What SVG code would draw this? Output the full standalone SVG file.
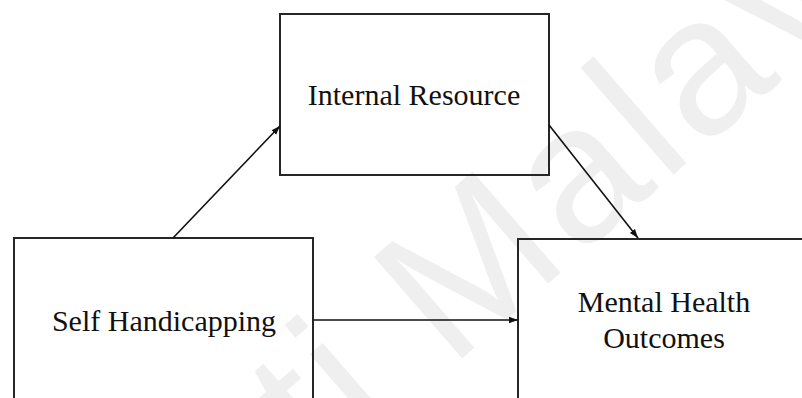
<svg xmlns="http://www.w3.org/2000/svg" width="802" height="398" viewBox="0 0 802 398">
  <style>
    .box { fill: none; stroke: #262626; stroke-width: 2; }
    .label { font-family: "Liberation Serif", "Times New Roman", serif; font-size: 30px; fill: #111; text-anchor: middle; }
    .edge { stroke: #111; stroke-width: 1.6; fill: none; marker-end: url(#arrow); }
    .mark { font-family: "Liberation Sans", Arial, sans-serif; font-size: 195px; letter-spacing: 6px; fill: #efefef; }
  </style>
  <defs>
    <marker id="arrow" markerUnits="userSpaceOnUse" markerWidth="10" markerHeight="8" refX="9" refY="4" orient="auto">
      <path d="M0,0.8 L9,4 L0,7.2 Z" fill="#111"/>
    </marker>
  </defs>

  <rect width="802" height="398" fill="#ffffff"/>

  <!-- background watermark -->
  <text class="mark" transform="translate(322 480) rotate(-41)">ti Malaya</text>

  <g id="internal-resource">
    <rect class="box" x="280" y="14" width="269" height="161"/>
    <text class="label" x="414" y="105">Internal Resource</text>
  </g>

  <g id="self-handicapping">
    <rect class="box" x="14" y="238" width="299" height="190"/>
    <text class="label" x="164" y="331">Self Handicapping</text>
  </g>

  <g id="mental-health-outcomes">
    <rect class="box" x="518" y="239" width="300" height="190"/>
    <text class="label" x="664" y="312">Mental Health</text>
    <text class="label" x="664" y="348">Outcomes</text>
  </g>

  <g id="connectors">
    <line class="edge" x1="173" y1="238" x2="280" y2="126"/>
    <line class="edge" x1="549" y1="125" x2="638" y2="238"/>
    <line class="edge" x1="313" y1="320" x2="518" y2="320"/>
  </g>
</svg>
